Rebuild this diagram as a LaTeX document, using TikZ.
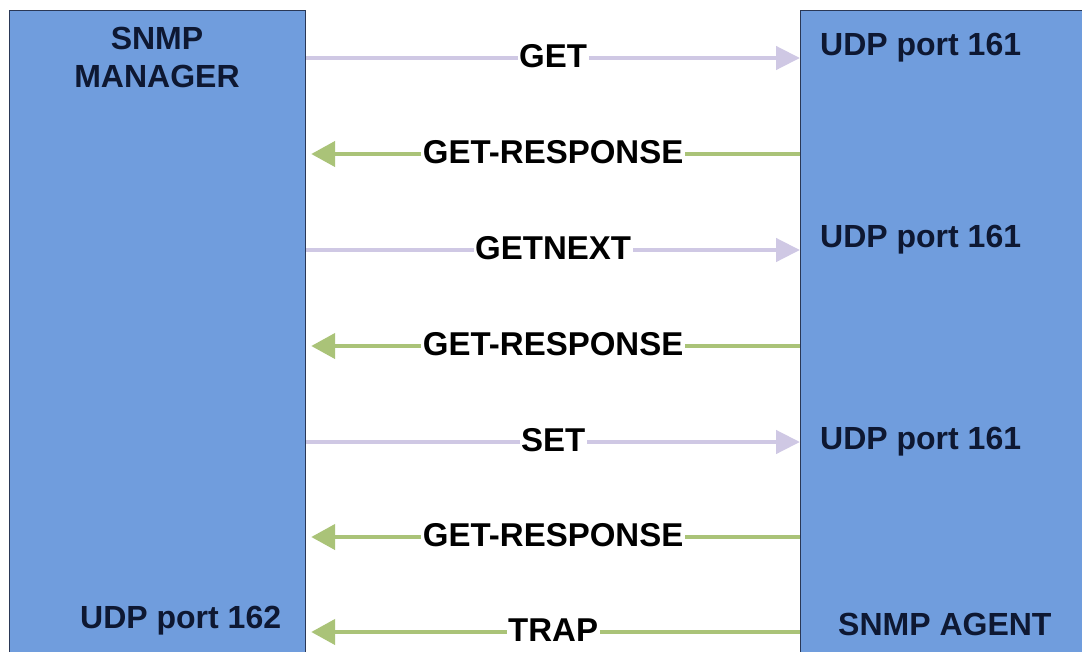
\documentclass[tikz,border=0pt]{standalone}
\usepackage{fontspec}
\setmainfont{Liberation Sans}
\usepackage{xcolor}
\usetikzlibrary{arrows.meta, positioning, calc}

\definecolor{boxblue}{RGB}{112,157,221}
\definecolor{boxline}{RGB}{42,56,86}
\definecolor{txtnavy}{RGB}{14,24,50}
\definecolor{reqcol}{RGB}{207,200,228}
\definecolor{respcol}{RGB}{170,195,120}

\tikzset{
	entity/.style={draw=boxline, line width=1.2pt, fill=boxblue, anchor=north west, inner sep=0pt},
	boxtext/.style={text=txtnavy, font=\fontsize{32}{38}\selectfont\bfseries, inner sep=0pt},
	req/.style={draw=reqcol, line width=4.5pt, -{Triangle[length=24pt, width=23pt]}},
	resp/.style={draw=respcol, line width=4.5pt, -{Triangle[length=24pt, width=25pt]}, shorten >=5pt},
	msg/.style={midway, fill=white, text=black, font=\fontsize{33}{38}\selectfont\bfseries,
		inner xsep=1.5pt, inner ysep=1pt, text height=23.5pt, text depth=0pt, yshift=2pt}
}

\begin{document}
\begin{tikzpicture}[x=1pt, y=-1pt]
		% Page frame
		\clip (0,0) rectangle (1082,651);
		
		% Manager and agent
		\node[entity, minimum width=296pt, minimum height=660pt] (mgr) at (9,10) {};
		\node[entity, minimum width=300pt, minimum height=660pt] (agt) at (800,10) {};
		
		\node[boxtext, align=center, anchor=north] (mgrname) at (157,27) {SNMP\\MANAGER};
		\node[boxtext, anchor=base west] (mgrport) at (80,628) {UDP port 162};
		\node[boxtext, anchor=base west] (agtport1) at (820,55) {UDP port 161};
		\node[boxtext, anchor=base west] (agtport2) at (820,247) {UDP port 161};
		\node[boxtext, anchor=base west] (agtport3) at (820,449) {UDP port 161};
		\node[boxtext, anchor=base west] (agtname) at (838,635) {SNMP AGENT};
		
		% Message rows
		\coordinate (r1) at (0,58);
		\coordinate (r2) at (0,154);
		\coordinate (r3) at (0,250);
		\coordinate (r4) at (0,346);
		\coordinate (r5) at (0,442);
		\coordinate (r6) at (0,537);
		\coordinate (r7) at (0,632);
		
		% Messages
		\draw[req] (mgr.east |- r1) -- (agt.west |- r1) node[msg] (get) {GET};
		\draw[resp] (agt.west |- r2) -- (mgr.east |- r2) node[msg] (resp1) {GET-RESPONSE};
		\draw[req] (mgr.east |- r3) -- (agt.west |- r3) node[msg] (getnext) {GETNEXT};
		\draw[resp] (agt.west |- r4) -- (mgr.east |- r4) node[msg] (resp2) {GET-RESPONSE};
		\draw[req] (mgr.east |- r5) -- (agt.west |- r5) node[msg] (set) {SET};
		\draw[resp] (agt.west |- r6) -- (mgr.east |- r6) node[msg] (resp3) {GET-RESPONSE};
		\draw[resp] (agt.west |- r7) -- (mgr.east |- r7) node[msg] (trap) {TRAP};
	\end{tikzpicture}
\end{document}
